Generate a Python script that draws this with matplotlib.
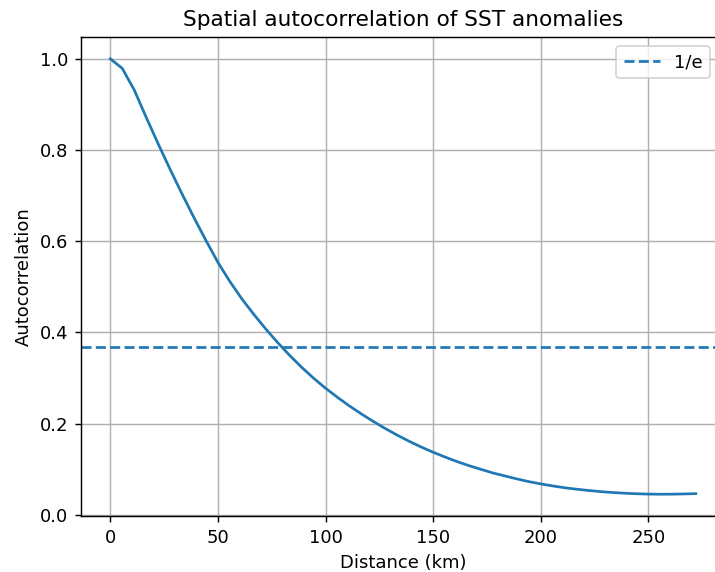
import numpy as np
import matplotlib
matplotlib.use("Agg")
import matplotlib.pyplot as plt

# lag distances (km) and autocorrelation
distance_km = [0.0, 5.55, 11.1, 16.65, 22.2, 27.75, 33.3, 38.85, 44.4, 49.95,
               55.5, 61.05, 66.6, 72.15, 77.7, 83.25, 88.8, 94.35, 99.9, 105.45,
               111.0, 116.55, 122.1, 127.65, 133.2, 138.75, 144.3, 149.85, 155.4, 160.95,
               166.5, 172.05, 177.6, 183.15, 188.7, 194.25, 199.8, 205.35, 210.9, 216.45,
               222.0, 227.55, 233.1, 238.65, 244.2, 249.75, 255.3, 260.85, 266.4, 271.95]
autocorr = [1.000, 0.979, 0.932, 0.872, 0.814, 0.758, 0.704, 0.652, 0.602, 0.554,
            0.512, 0.474, 0.440, 0.408, 0.378, 0.350, 0.324, 0.300, 0.278, 0.258,
            0.239, 0.2215, 0.205, 0.1895, 0.175, 0.1615, 0.149, 0.1375, 0.127, 0.117,
            0.108, 0.100, 0.092, 0.0855, 0.079, 0.073, 0.068, 0.0635, 0.0595, 0.0563,
            0.0535, 0.051, 0.049, 0.0475, 0.0463, 0.0455, 0.0452, 0.0453, 0.0458, 0.0465]

threshold = 1 / np.e

fig = plt.figure(figsize=(5.5, 4.4), dpi=130)
# axes run a little past the right edge, as in the reference crop
ax = fig.add_axes([81 / 715, 56 / 572, 644 / 715, 479 / 572])

ax.plot(distance_km, autocorr, color='#1f77b4', linewidth=1.5)
ax.axhline(threshold, color='#1f77b4', linestyle='--', linewidth=1.5, label='1/e')

ax.set_title('Spatial autocorrelation of SST anomalies', fontsize=12)
ax.set_xlabel('Distance (km)')
ax.set_ylabel('Autocorrelation')
ax.grid(True)
ax.legend(loc='upper right', bbox_to_anchor=(0.9907, 1.0))

fig.savefig('out.png', dpi=130)
